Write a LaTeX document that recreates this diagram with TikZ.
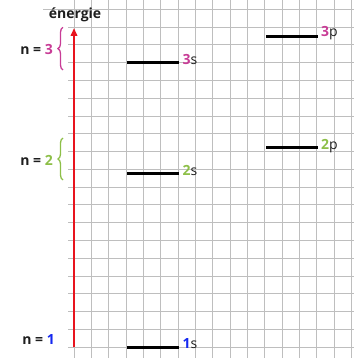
\documentclass[tikz,border=0pt]{standalone}
\usepackage{fontspec}
\setmainfont{Open Sans}
\usetikzlibrary{arrows.meta,decorations.pathreplacing}
\definecolor{mag}{HTML}{C83C96}
\definecolor{grn}{HTML}{8DBF48}
\definecolor{blu}{HTML}{1428F0}
\definecolor{gridc}{HTML}{BEBEBE}
\definecolor{arr}{HTML}{E8141E}
\definecolor{txt}{HTML}{1E1E1E}
\tikzset{
  gridline/.style={draw=gridc, line width=1pt},
  level/.style={draw=black, line width=3pt},
  lab/.style={font=\fontsize{14}{14}\selectfont, text=txt, inner sep=0pt, anchor=west},
  nlab/.style={font=\fontsize{14}{14}\selectfont\bfseries, text=txt, inner sep=0pt, anchor=east},
  bracestyle/.style={line width=1.3pt, decorate, decoration={brace, amplitude=5pt}},
}
\begin{document}
\begin{tikzpicture}[x=1pt,y=-1pt]
\useasboundingbox (0,0) rectangle (354,358);
% grid
\foreach \k in {0,...,16} \draw[gridline] ({74+17.35*\k},0) -- ({74+17.35*\k},358);
\draw[gridline] (43,9.3) -- (354,9.3);
\foreach \j in {1,...,19} \draw[gridline] (68,{9.3+17.79*\j}) -- (354,{9.3+17.79*\j});
% energy axis
\coordinate (abot) at (74,347.3);
\coordinate (atop) at (74,28);
\draw[draw=arr, line width=2pt, -{Triangle[length=8pt,width=6.5pt]}] (abot) -- (atop);
\node[font=\fontsize{14}{14}\selectfont\bfseries, text=txt, inner sep=0pt] (energie) at (75,15) {énergie};
% n labels
\node[nlab] (n3) at (53,50) {n = \textcolor{mag}{3}};
\node[nlab] (n2) at (53,160) {n = \textcolor{grn}{2}};
\node[nlab] (n1) at (55,339) {n = \textcolor{blu}{1}};
% braces
\coordinate (b3a) at (63,70);
\coordinate (b3b) at (63,27.3);
\draw[bracestyle, draw=mag] (b3a) -- (b3b);
\coordinate (b2a) at (63,180);
\coordinate (b2b) at (63,138);
\draw[bracestyle, draw=grn] (b2a) -- (b2b);
% levels
\coordinate (s1a) at (127,347); \coordinate (s1b) at (179,347);
\draw[level] (s1a) -- (s1b);
\node[lab] (l1s) at (182.5,344) {\textbf{\textcolor{blu}{1}}s};
\coordinate (s2a) at (127,173.3); \coordinate (s2b) at (179,173.3);
\draw[level] (s2a) -- (s2b);
\node[lab] (l2s) at (182.5,170) {\textbf{\textcolor{grn}{2}}s};
\coordinate (p2a) at (266,147.7); \coordinate (p2b) at (317.5,147.7);
\draw[level] (p2a) -- (p2b);
\node[lab] (l2p) at (321,146) {\textbf{\textcolor{grn}{2}}p};
\coordinate (s3a) at (127,62.7); \coordinate (s3b) at (179,62.7);
\draw[level] (s3a) -- (s3b);
\node[lab] (l3s) at (182.5,59.5) {\textbf{\textcolor{mag}{3}}s};
\coordinate (p3a) at (266,36.7); \coordinate (p3b) at (317.5,36.7);
\draw[level] (p3a) -- (p3b);
\node[lab] (l3p) at (321,33.5) {\textbf{\textcolor{mag}{3}}p};
\end{tikzpicture}
\end{document}
